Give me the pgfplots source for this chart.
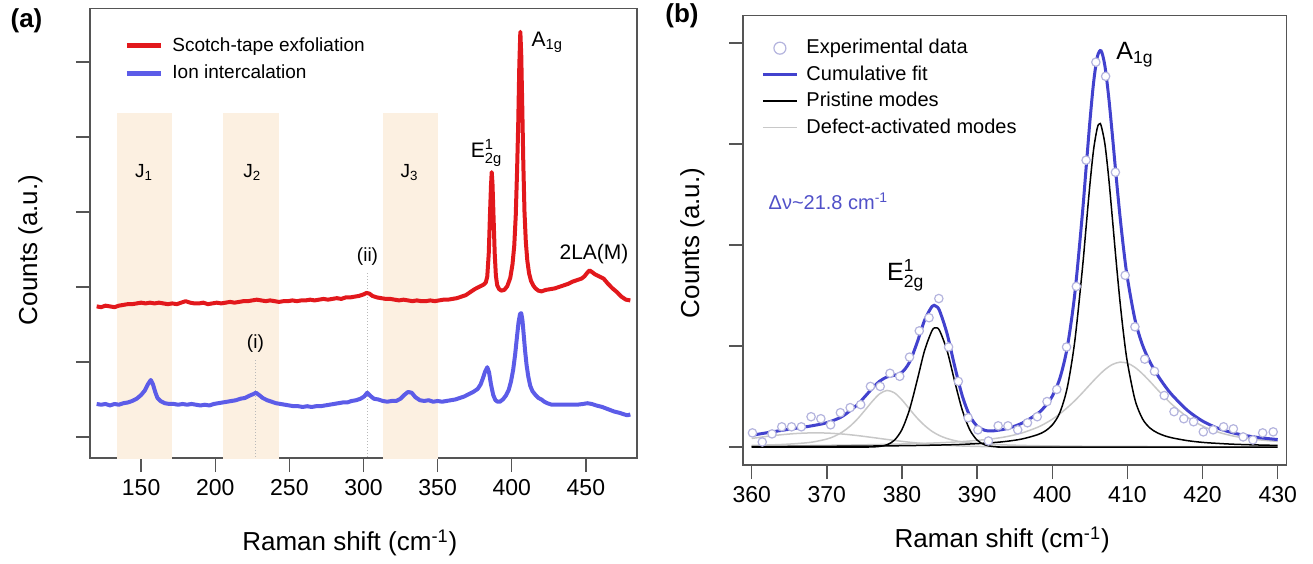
\documentclass[border=0pt]{standalone}
\usepackage{fontspec}
\setmainfont{Liberation Sans}
\usepackage{amsmath}
\usepackage{pgfplots}
\pgfplotsset{compat=1.18}
\definecolor{redc}{RGB}{226,24,28}
\definecolor{bluea}{RGB}{92,92,232}
\definecolor{cumc}{RGB}{66,66,206}
\definecolor{defc}{RGB}{200,200,200}
\definecolor{bandc}{RGB}{252,240,225}
\definecolor{ptc}{RGB}{180,180,222}
\definecolor{dvc}{RGB}{80,80,200}
\definecolor{axgray}{RGB}{85,85,85}
\pgfplotsset{
  myaxis/.style={
    anchor=south west, scale only axis,
    tick align=outside, xtick pos=left, ytick pos=left,
    major tick length=7pt,
    axis line style={draw=axgray, line width=0.75pt},
    tick style={axgray, line width=0.75pt},
    ticklabel style={font=\fontsize{11.5}{13}\selectfont},
    /pgf/number format/assume math mode=true,
    label style={font=\fontsize{13}{15}\selectfont},
    yticklabels={},
    legend cell align=left,
  }
}
\begin{document}
\begin{tikzpicture}
\useasboundingbox (0,0) rectangle (656.5pt,281.5pt);
% ---------------- panel (a)
\begin{axis}[myaxis,
  at={(45pt,52.5pt)}, width=273.5pt, height=224.75pt,
  xmin=115.5, xmax=484.5, ymin=-0.28, ymax=5.71,
  xtick={150,200,...,450}, ytick={0,...,5},
  xlabel={Raman shift (cm\textsuperscript{-1})}, ylabel={Counts (a.u.)},
  xlabel style={at={(axis description cs:0.475,-0.189)}, anchor=center},
  ylabel style={at={(axis description cs:-0.109,0.463)}, anchor=center},
  legend style={draw=none, fill=none, at={(axis description cs:0.062,0.9455)}, anchor=north west,
    font=\fontsize{9.5}{11.5}\selectfont, inner sep=0pt, row sep=1.5pt,
    /tikz/every odd column/.append style={column sep=2.5pt}},
]
\addlegendimage{redc, line width=2.5pt}
\addlegendentry{Scotch-tape exfoliation}
\addlegendimage{bluea, line width=2.5pt}
\addlegendentry{Ion intercalation}
\addplot[draw=none, fill=bandc, forget plot] coordinates {(133.8,-1) (133.8,4.32) (171,4.32) (171,-1)};
\addplot[draw=none, fill=bandc, forget plot] coordinates {(205.5,-1) (205.5,4.32) (242.7,4.32) (242.7,-1)};
\addplot[draw=none, fill=bandc, forget plot] coordinates {(313.1,-1) (313.1,4.32) (350.5,4.32) (350.5,-1)};
\addplot[gray!55, densely dotted, line width=0.5pt, forget plot] coordinates {(227.1,-0.5) (227.1,1.03)};
\addplot[gray!55, densely dotted, line width=0.5pt, forget plot] coordinates {(302.7,-0.5) (302.7,2.19)};
\addplot[redc, line width=2pt, line join=round, forget plot] table {
120 1.74
123 1.73
126 1.75
129 1.74
132 1.73
135 1.75
138 1.76
141 1.77
144 1.77
147 1.78
150 1.79
153 1.78
156 1.79
159 1.78
162 1.79
165 1.78
168 1.77
171 1.78
174 1.77
177 1.79
180 1.81
183 1.79
186 1.78
189 1.78
192 1.79
195 1.77
198 1.78
201 1.79
204 1.78
207 1.79
210 1.80
213 1.79
216 1.80
219 1.81
222 1.81
225 1.82
228 1.83
231 1.82
234 1.81
237 1.82
240 1.81
243 1.80
246 1.81
249 1.81
252 1.82
255 1.81
258 1.82
261 1.82
264 1.83
267 1.82
270 1.83
273 1.84
276 1.83
279 1.84
282 1.85
285 1.84
288 1.86
291 1.86
294 1.87
297 1.88
300 1.90
302 1.92
304 1.91
306 1.88
309 1.86
312 1.85
315 1.84
318 1.84
321 1.83
324 1.82
327 1.83
330 1.82
333 1.81
336 1.82
339 1.81
342 1.81
345 1.82
348 1.81
351 1.82
354 1.83
357 1.83
360 1.84
363 1.85
366 1.87
369 1.89
372 1.93
375 1.97
377 1.99
379 2.01
381 2.03
382.5 2.06
383.5 2.14
384.5 2.45
385.3 2.95
386 3.35
386.5 3.53
387 3.38
387.7 2.95
388.5 2.45
389.3 2.15
390.2 2.02
391.5 1.97
393 1.95
395 1.96
397 2.01
399 2.12
400.5 2.30
401.7 2.55
402.7 2.95
403.6 3.55
404.4 4.20
405.1 4.95
405.8 5.40
406.4 5.10
407.1 4.40
407.8 3.65
408.6 3.00
409.5 2.60
410.5 2.35
411.7 2.18
413 2.08
414.5 2.02
416 1.98
418 1.95
420 1.94
423 1.96
426 1.97
429 1.98
432 2.00
435 2.02
438 2.04
441 2.07
444 2.09
447 2.11
449 2.14
451 2.19
452.5 2.22
454 2.20
456 2.17
459 2.14
462 2.11
465 2.04
468 1.98
471 1.93
474 1.87
477 1.83
480 1.82
};
\addplot[bluea, line width=2pt, line join=round, forget plot] table {
120 0.44
123 0.43
126 0.44
129 0.42
132 0.44
135 0.43
138 0.45
141 0.46
144 0.48
147 0.51
150 0.56
152.5 0.62
154.5 0.70
156.5 0.76
158 0.70
159.5 0.60
161 0.52
163 0.48
166 0.45
169 0.44
172 0.44
175 0.43
178 0.44
181 0.43
184 0.44
187 0.43
190 0.42
193 0.43
196 0.42
199 0.44
202 0.45
205 0.46
208 0.47
211 0.48
214 0.49
217 0.51
220 0.52
223 0.55
225.5 0.57
227.5 0.59
229.5 0.56
232 0.52
235 0.49
238 0.47
241 0.45
244 0.44
247 0.43
250 0.42
253 0.41
256 0.41
259 0.40
262 0.41
265 0.40
268 0.41
271 0.41
274 0.42
277 0.43
280 0.44
283 0.45
286 0.46
289 0.46
292 0.48
295 0.49
298 0.51
300.5 0.54
302.5 0.59
304.5 0.55
307 0.51
310 0.50
313 0.48
316 0.47
319 0.48
322 0.48
325 0.51
327.5 0.56
330 0.60
332.5 0.59
335 0.53
338 0.49
341 0.48
344 0.49
347 0.47
350 0.48
353 0.47
356 0.48
359 0.49
362 0.50
365 0.52
368 0.54
371 0.57
374 0.60
377 0.64
379 0.70
380.5 0.78
382 0.87
383.5 0.93
384.7 0.86
386 0.70
387.5 0.56
389 0.49
390.5 0.47
392 0.47
394 0.50
396 0.55
398 0.63
399.5 0.74
401 0.90
402.3 1.10
403.5 1.33
404.6 1.53
405.6 1.64
406.4 1.65
407.2 1.56
408 1.38
409 1.15
410 0.96
411.2 0.80
412.5 0.68
414 0.61
416 0.56
418 0.52
420 0.50
422 0.47
424 0.45
427 0.43
430 0.43
433 0.43
436 0.43
440 0.43
444 0.43
448 0.44
451 0.45
454 0.44
457 0.42
461 0.40
465 0.37
469 0.34
473 0.32
476 0.30
478 0.29
480 0.30
};
\node[font=\fontsize{9.5}{11}\selectfont] at (axis cs:152,3.53) {J\textsubscript{1}};
\node[font=\fontsize{9.5}{11}\selectfont] at (axis cs:225,3.53) {J\textsubscript{2}};
\node[font=\fontsize{9.5}{11}\selectfont] at (axis cs:331,3.53) {J\textsubscript{3}};
\node[font=\fontsize{9.5}{11}\selectfont] at (axis cs:227.1,1.25) {(i)};
\node[font=\fontsize{9.5}{11}\selectfont] at (axis cs:302.7,2.40) {(ii)};
\node[font=\fontsize{10.5}{12}\selectfont] at (axis cs:383,3.78) {E$^{\text{1}}_{\text{2g}}$};
\node[font=\fontsize{10.5}{12}\selectfont] at (axis cs:424,5.26) {A\textsubscript{1g}};
\node[font=\fontsize{10.5}{12}\selectfont] at (axis cs:455.5,2.44) {2LA(M)};
\end{axis}
% ---------------- panel (b)
\begin{axis}[myaxis,
  at={(371.5pt,49pt)}, width=271.75pt, height=224.65pt,
  xmin=358.84, xmax=431.17, ymin=-0.178, ymax=4.27,
  xtick={360,370,...,430}, ytick={0,...,4},
  xlabel={Raman shift (cm\textsuperscript{-1})}, ylabel={Counts (a.u.)},
  xlabel style={at={(axis description cs:0.477,-0.167)}, anchor=center},
  ylabel style={at={(axis description cs:-0.093,0.494)}, anchor=center},
  legend style={draw=none, fill=none, at={(axis description cs:0.033,0.957)}, anchor=north west,
    font=\fontsize{10}{11.5}\selectfont, inner sep=0pt, row sep=0.5pt,
    /tikz/every odd column/.append style={column sep=2pt}},
]
\addlegendimage{only marks, mark=*, mark size=3pt, mark options={fill=white, draw=ptc, line width=0.6pt}}
\addlegendentry{Experimental data}
\addlegendimage{cumc, line width=1.5pt}
\addlegendentry{Cumulative fit}
\addlegendimage{black, line width=0.75pt}
\addlegendentry{Pristine modes}
\addlegendimage{defc, line width=0.75pt}
\addlegendentry{Defect-activated modes}
% defect-activated modes
\addplot[defc, line width=0.75pt, smooth, forget plot] table {
360 0.085
362 0.105
364 0.122
366 0.134
368 0.140
370 0.138
372 0.129
374 0.114
376 0.095
378 0.075
380 0.056
382 0.040
384 0.027
386 0.017
388 0.010
390 0.006
392 0.003
394 0.002
396 0.001
400 0.000
};
\addplot[defc, line width=0.75pt, smooth, forget plot] table {
360 0.016
362 0.020
364 0.025
366 0.034
368 0.048
370 0.079
371 0.106
372 0.146
373 0.201
374 0.272
375 0.358
376 0.448
377 0.525
378 0.560
379 0.536
380 0.466
381 0.376
382 0.288
383 0.214
384 0.155
385 0.113
386 0.084
387 0.064
388 0.050
390 0.035
392 0.026
394 0.020
396 0.016
398 0.013
400 0.011
405 0.007
410 0.006
420 0.003
430 0.002
};
\addplot[defc, line width=0.75pt, smooth, forget plot] table {
360 0.011
365 0.013
370 0.017
375 0.022
380 0.030
385 0.042
388 0.054
390 0.066
392 0.081
394 0.104
396 0.140
398 0.194
399 0.231
400 0.275
401 0.328
402 0.390
403 0.459
404 0.536
405 0.617
406 0.696
407 0.766
408 0.817
409 0.840
410 0.830
411 0.789
412 0.725
413 0.649
414 0.568
415 0.489
416 0.417
418 0.295
420 0.208
422 0.149
424 0.110
426 0.085
428 0.068
430 0.056
};
% pristine modes
\addplot[black, line width=0.75pt, smooth, forget plot] table {
360 0.000
372 0.000
375 0.000
376 0.001
377 0.006
378 0.022
379 0.068
380 0.174
381 0.371
382 0.654
383 0.954
384 1.153
384.5 1.180
385 1.153
386 0.954
387 0.654
388 0.371
389 0.174
390 0.068
391 0.022
392 0.006
393 0.001
394 0.000
410 0.000
430 0.000
};
\addplot[black, line width=0.75pt, smooth, forget plot] table {
360 0.004
364 0.005
368 0.006
372 0.008
376 0.010
380 0.013
384 0.018
388 0.026
392 0.043
394 0.057
396 0.080
398 0.121
399 0.156
400 0.218
401 0.340
402 0.590
403 1.051
404 1.759
404.5 2.177
405 2.593
405.5 2.946
406 3.162
406.3 3.200
406.5 3.183
407 3.002
407.5 2.671
408 2.262
408.5 1.840
409 1.449
409.5 1.111
410 0.837
411 0.470
412 0.280
413 0.188
414 0.140
415 0.110
416 0.090
418 0.063
420 0.046
422 0.036
424 0.028
426 0.023
428 0.019
430 0.016
};
% cumulative fit
\addplot[cumc, line width=1.5pt, smooth, forget plot] table {
360 0.116
362 0.141
364 0.165
366 0.187
368 0.210
370 0.241
372 0.301
374 0.415
375 0.494
376 0.577
377 0.650
378 0.694
379 0.710
380 0.739
381 0.840
382 1.031
383 1.254
384 1.392
384.5 1.395
385 1.349
386 1.122
387 0.804
388 0.512
389 0.312
390 0.207
391 0.166
392 0.159
394 0.183
396 0.237
398 0.328
399 0.399
400 0.504
401 0.678
402 0.989
403 1.519
404 2.303
404.5 2.761
405 3.217
405.5 3.610
406 3.865
406.5 3.922
407 3.774
407.5 3.471
408 3.085
408.5 2.678
409 2.294
409.5 1.956
410 1.672
411 1.264
412 1.011
413 0.842
414 0.713
415 0.604
416 0.511
418 0.362
420 0.257
422 0.187
424 0.141
426 0.110
428 0.089
430 0.074
};
% experimental data
\addplot[only marks, mark=*, mark size=2.1pt, mark options={fill=white, draw=ptc, line width=0.6pt}, forget plot] table {
360.1 0.14
361.4 0.05
362.7 0.13
364.0 0.20
365.3 0.20
366.6 0.20
367.9 0.30
369.2 0.28
370.5 0.22
371.8 0.34
373.1 0.39
374.5 0.42
375.8 0.60
377.1 0.60
378.4 0.73
379.7 0.70
381.0 0.89
382.3 1.15
383.6 1.28
384.9 1.47
386.2 0.99
387.5 0.65
388.8 0.29
390.1 0.17
391.5 0.06
392.8 0.21
394.1 0.21
395.4 0.17
396.7 0.24
398.0 0.30
399.3 0.45
400.6 0.57
401.9 0.99
403.2 1.59
404.5 2.84
405.8 3.81
407.1 3.67
408.4 2.72
409.7 1.70
411.0 1.19
412.3 0.87
413.6 0.75
414.9 0.51
416.2 0.35
417.5 0.28
418.8 0.25
420.1 0.15
421.4 0.17
422.8 0.20
424.1 0.18
425.4 0.10
426.7 0.07
428.0 0.14
429.4 0.15
};
\node[font=\fontsize{12.5}{14}\selectfont] at (axis cs:411,3.88) {A\textsubscript{1g}};
\node[font=\fontsize{12.5}{14}\selectfont] at (axis cs:380.5,1.70) {E$^{\text{1}}_{\text{2g}}$};
\node[anchor=west, inner sep=0pt, text=dvc, font=\fontsize{10}{12}\selectfont] at (axis cs:362.2,2.43) {Δν\textasciitilde 21.8 cm\textsuperscript{-1}};
\end{axis}
\node[font=\bfseries\fontsize{13}{15}\selectfont] at (13.25pt,271pt) {(a)};
\node[font=\bfseries\fontsize{13}{15}\selectfont] at (341pt,273.5pt) {(b)};
\end{tikzpicture}
\end{document}
